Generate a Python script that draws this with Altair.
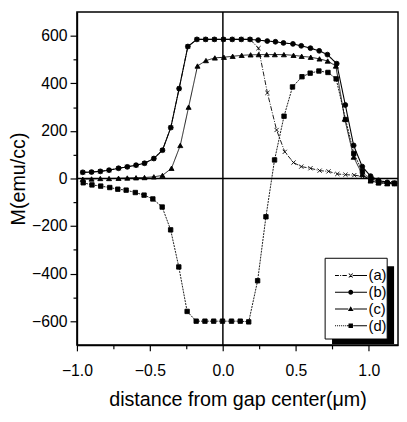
import altair as alt
import pandas as pd

labels = ["(a)", "(b)", "(c)", "(d)"]

x_a = [-0.96, -0.90, -0.84, -0.78, -0.715, -0.655, -0.595, -0.537, -0.473, -0.414,
       -0.357, -0.30, -0.24, -0.178, -0.118, -0.058, 0.004, 0.064, 0.126, 0.186,
       0.244, 0.305, 0.368, 0.424, 0.484, 0.537, 0.60, 0.663, 0.724, 0.784,
       0.84, 0.90, 0.956, 1.016, 1.067, 1.147]
y_a = [26, 27, 30, 35, 43, 49, 56, 64, 84, 119,
       214, 378, 555, 585, 585, 585, 585, 585, 585, 585,
       548, 360, 204, 112, 67, 50, 43, 33, 30, 19,
       16, 14, 9, 0, -13, -18]

x_b = [-0.96, -0.90, -0.84, -0.78, -0.715, -0.655, -0.595, -0.537, -0.473, -0.414,
       -0.357, -0.30, -0.24, -0.178, -0.118, -0.058, 0.004, 0.064, 0.126, 0.186,
       0.242, 0.304, 0.36, 0.415, 0.48, 0.537, 0.60, 0.66, 0.716, 0.78,
       0.839, 0.896, 0.955, 1.012, 1.066, 1.126, 1.176]
y_b = [26, 27, 30, 35, 43, 49, 56, 64, 84, 119,
       214, 378, 555, 585, 585, 585, 585, 585, 585, 585,
       582, 578, 575, 570, 566, 558, 548, 537, 521, 483,
       309, 139, 50, 10, -8, -16, -20]

x_c = [-0.96, -0.90, -0.84, -0.78, -0.715, -0.655, -0.595, -0.537, -0.473, -0.414,
       -0.352, -0.292, -0.235, -0.174, -0.116, -0.055, 0.007, 0.067, 0.129, 0.19,
       0.245, 0.30, 0.356, 0.418, 0.484, 0.54, 0.602, 0.662, 0.718, 0.774,
       0.835, 0.896, 0.955, 1.012, 1.066, 1.126, 1.176]
y_c = [-3, -2, 0, 0, 1, 2, 3, 4, 7, 13,
       43, 139, 300, 473, 496, 507, 510, 514, 518, 520,
       521, 521, 521, 521, 518, 514, 510, 503, 494, 473,
       250, 90, 17, -10, -18, -22, -22]

x_d = [-0.957, -0.897, -0.837, -0.775, -0.72, -0.663, -0.60, -0.54, -0.48, -0.416,
       -0.358, -0.302, -0.245, -0.183, -0.123, -0.063, -0.003, 0.059, 0.119, 0.177,
       0.238, 0.295, 0.354, 0.419, 0.477, 0.542, 0.598, 0.658, 0.72, 0.776,
       0.841, 0.897, 0.956, 1.013, 1.067, 1.127, 1.177]
y_d = [-18, -27, -32, -38, -45, -49, -59, -70, -86, -120,
       -216, -372, -559, -600, -600, -600, -600, -600, -600, -603,
       -430, -161, 78, 262, 385, 428, 443, 452, 446, 419,
       248, 105, 30, -8, -18, -20, -20]

x_ticks = [-1.0, -0.75, -0.5, -0.25, 0.0, 0.25, 0.5, 0.75, 1.0]
y_ticks = [-600, -500, -400, -300, -200, -100, 0, 100, 200, 300, 400, 500, 600]

rows = []
for lab, xs, ys in zip(labels, [x_a, x_b, x_c, x_d], [y_a, y_b, y_c, y_d]):
    for i, (xv, yv) in enumerate(zip(xs, ys)):
        rows.append({"series": lab, "x": xv, "y": yv, "i": i})
df = pd.DataFrame(rows)

FONT = "Liberation Sans"
MAJ_X = "abs(datum.value*2 - round(datum.value*2)) < 0.001"
MAJ_Y = "datum.value % 200 === 0"

x_enc = alt.X("x:Q", title="distance from gap center(\u03bcm)",
              scale=alt.Scale(domain=[-1.0, 1.2], nice=False, zero=False),
              axis=alt.Axis(values=x_ticks, grid=False,
                            labelExpr=MAJ_X + " ? format(datum.value, '.1f') : ''",
                            tickSize={"condition": {"test": MAJ_X, "value": 6}, "value": 4},
                            labelOverlap=False, labelFlush=False, labelBound=False,
                            labelPadding=12, titlePadding=12))
y_enc = alt.Y("y:Q", title="M(emu/cc)",
              scale=alt.Scale(domain=[-700, 700], nice=False, zero=False),
              axis=alt.Axis(values=y_ticks, grid=False,
                            labelExpr=MAJ_Y + " ? format(datum.value, 'd') : ''",
                            tickSize={"condition": {"test": MAJ_Y, "value": 7}, "value": 4},
                            labelOverlap=False, labelFlush=False, labelBound=False,
                            labelPadding=3, titlePadding=3))

dash_map = {"(a)": [5, 1.5, 1, 1.5], "(b)": [1, 0], "(c)": [1, 0], "(d)": [2, 1]}
width_map = {"(a)": 0.9, "(b)": 1.1, "(c)": 0.9, "(d)": 0.9}
shape_map = {"(a)": "M-1,-1L1,1M-1,1L1,-1", "(b)": "circle", "(c)": "triangle-up", "(d)": "square"}
size_map = {"(a)": 18, "(b)": 24, "(c)": 26, "(d)": 20}

layers = []
zero_h = alt.Chart(pd.DataFrame({"y": [0]})).mark_rule(color="black", strokeWidth=1.5).encode(y=y_enc)
zero_v = alt.Chart(pd.DataFrame({"x": [0]})).mark_rule(color="black", strokeWidth=1.5).encode(x=x_enc)
layers += [zero_h, zero_v]

for lab in labels:
    sub = alt.Chart(df).transform_filter(alt.datum.series == lab)
    layers.append(sub.mark_line(color="black", strokeWidth=width_map[lab],
                                strokeDash=dash_map[lab], clip=True).encode(x=x_enc, y=y_enc, order="i:Q"))
    layers.append(sub.mark_point(shape=shape_map[lab], filled=True, fill="black", stroke="black",
                                 strokeWidth=0.9, size=size_map[lab], opacity=1, clip=True)
                  .encode(x=x_enc, y=y_enc))

# legend symbols as filled outlines (line segment - marker - line segment); 1 unit = 2.5 px
RIGHT = "M6.4,-0.22H12.0V0.22H6.4Z"
leg_paths = [
    "M-1,-0.18H0.6V0.18H-1ZM1.1,-0.18H1.5V0.18H1.1ZM2.0,-0.18H3.8V0.18H2.0Z"
    "M4.73,-0.93L6.33,0.67L6.07,0.93L4.47,-0.67Z"
    "M4.47,0.67L6.07,-0.93L6.33,-0.67L4.73,0.93Z"
    "M6.2,-0.22H12.0V0.22H6.2Z",
    "M-1,-0.2H4.4V0.2H-1Z"
    "M6.4,0A1,1,0,1,1,4.4,0A1,1,0,1,1,6.4,0Z" + RIGHT,
    "M-1,-0.18H4.4V0.18H-1Z"
    "M5.4,-1.15L6.55,0.85L4.25,0.85Z" + RIGHT,
    "M-1,-0.18H-0.6V0.18H-1ZM-0.2,-0.18H0.2V0.18H-0.2ZM0.6,-0.18H1.0V0.18H0.6Z"
    "M1.4,-0.18H1.8V0.18H1.4ZM2.2,-0.18H2.6V0.18H2.2ZM3.0,-0.18H3.4V0.18H3.0Z"
    "M3.8,-0.18H4.5V0.18H3.8Z"
    "M4.5,-0.9H6.3V0.9H4.5Z" + RIGHT,
]

LX, LY = 252, 255
legend_layer = alt.Chart(df).transform_filter("datum.x > 5").mark_point(
    filled=True, fill="black", size=25
).encode(
    x=x_enc, y=y_enc,
    shape=alt.Shape("series:N", scale=alt.Scale(domain=labels, range=leg_paths),
                    legend=alt.Legend(title=None, orient="none", legendX=LX, legendY=LY,
                                      strokeColor="transparent", fillColor="transparent", padding=5,
                                      labelFont=FONT, labelFontSize=15, labelColor="black",
                                      labelOffset=24, rowPadding=1, symbolSize=25,
                                      symbolFillColor="black", symbolOpacity=1)),
)

one = pd.DataFrame({"k": [0]})
shadow = alt.Chart(one).mark_rect(color="black").encode(
    x=alt.value(259), x2=alt.value(322),
    y=alt.value(258), y2=alt.value(337),
)
box = alt.Chart(one).mark_rect(fill="white", stroke="black", strokeWidth=1).encode(
    x=alt.value(252), x2=alt.value(315),
    y=alt.value(250), y2=alt.value(332),
)
layers += [shadow, box, legend_layer]

chart = alt.layer(*layers).properties(
    width=326, height=338, padding={"left": 0, "top": 0, "right": 0, "bottom": 0}
).configure_view(
    stroke="black", strokeWidth=1.5
).configure_axis(
    labelFont=FONT, labelFontSize=16, labelColor="black",
    titleFont=FONT, titleFontSize=20, titleFontWeight="normal", titleColor="black",
    domainColor="black", domainWidth=1.5, tickColor="black", tickWidth=1.2
)

chart.save("out.html", embed_options={"renderer": "svg", "actions": False})
